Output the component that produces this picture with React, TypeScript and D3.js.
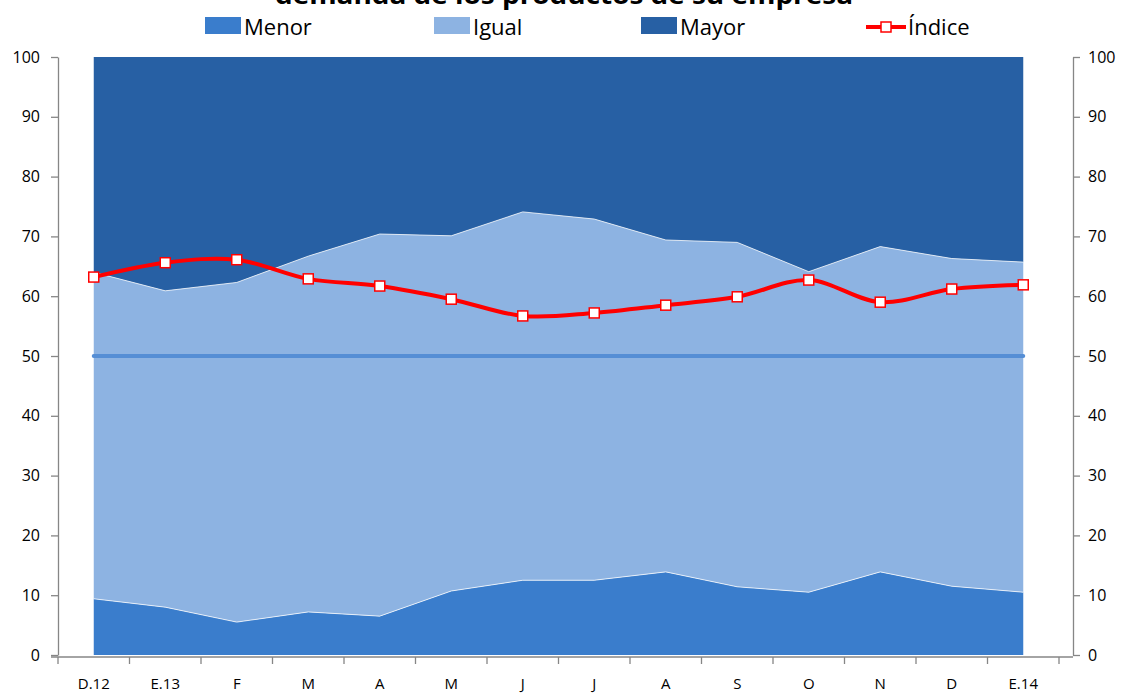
import React, { useEffect, useRef } from 'react';
import * as d3 from 'd3';

// valores (porcentajes)
const categories = ['D.12', 'E.13', 'F', 'M', 'A', 'M', 'J', 'J', 'A', 'S', 'O', 'N', 'D', 'E.14'];
const menor = [9.4, 8.0, 5.5, 7.2, 6.5, 10.7, 12.5, 12.5, 13.9, 11.4, 10.5, 13.9, 11.5, 10.5];
const igual = [54.6, 52.9, 56.8, 59.5, 63.9, 59.4, 61.6, 60.4, 55.5, 57.6, 53.6, 54.4, 54.8, 55.2];
const mayor = [36.0, 39.1, 37.7, 33.3, 29.6, 29.9, 25.9, 27.1, 30.6, 31.0, 35.9, 31.7, 33.7, 34.3];
const indice = [63.2, 65.6, 66.1, 62.9, 61.7, 59.5, 56.7, 57.2, 58.5, 59.9, 62.7, 59.0, 61.2, 61.9];
const referencia = categories.map(() => 50);
const yTicks = [0, 10, 20, 30, 40, 50, 60, 70, 80, 90, 100];

const title = 'demanda de los productos de su empresa';
const seriesNames = ['Menor', 'Igual', 'Mayor'];
const seriesColors = ['#3a7dcc', '#8db3e2', '#2760a4'];

const FONT = "'Open Sans', 'Liberation Sans', sans-serif";

const App: React.FC = () => {
  const svgRef = useRef<SVGSVGElement | null>(null);

  useEffect(() => {
    if (!svgRef.current) return;
    const width = 1121;
    const height = 695;
    const margin = { left: 58, right: 1073, top: 57, bottom: 655, bandEnd: 1059 };

    const svg = d3.select(svgRef.current)
      .attr('width', width)
      .attr('height', height)
      .style('font-family', FONT);
    svg.selectAll('*').remove();

    const idx = categories.map((_, i) => i);
    const x = d3.scaleBand<number>()
      .domain(idx)
      .range([margin.left, margin.bandEnd])
      .padding(0);
    const cx = (i: number) => (x(i) || 0) + x.bandwidth() / 2;

    const y = d3.scaleLinear().domain([0, 100]).range([margin.bottom, margin.top]);

    // áreas apiladas
    const rows = idx.map(i => ({ i, Menor: menor[i], Igual: igual[i], Mayor: mayor[i] }));
    const stacked = d3.stack<any>().keys(seriesNames)(rows);

    const area = d3.area<any>()
      .x(d => cx(d.data.i))
      .y0(d => y(d[0]))
      .y1(d => y(d[1]));
    const topLine = d3.line<any>()
      .x(d => cx(d.data.i))
      .y(d => y(d[1]));

    svg.append('g')
      .selectAll('path')
      .data(stacked)
      .join('path')
      .attr('d', area)
      .attr('fill', (_, k) => seriesColors[k]);

    svg.append('g')
      .selectAll('path')
      .data(stacked.slice(0, 2))
      .join('path')
      .attr('d', topLine)
      .attr('fill', 'none')
      .attr('stroke', '#ffffff')
      .attr('stroke-opacity', 0.75)
      .attr('stroke-width', 1);

    // línea de referencia 50
    svg.append('path')
      .datum(idx)
      .attr('d', d3.line<number>().x(i => cx(i)).y(i => y(referencia[i])))
      .attr('fill', 'none')
      .attr('stroke', '#558ed5')
      .attr('stroke-width', 4)
      .attr('stroke-linecap', 'round');

    // índice
    svg.append('path')
      .datum(idx)
      .attr('d', d3.line<number>().x(i => cx(i)).y(i => y(indice[i])).curve(d3.curveCardinal.tension(0)))
      .attr('fill', 'none')
      .attr('stroke', '#ff0000')
      .attr('stroke-width', 4)
      .attr('stroke-linejoin', 'round');

    svg.append('g')
      .selectAll('rect')
      .data(idx)
      .join('rect')
      .attr('x', i => cx(i) - 5)
      .attr('y', i => y(indice[i]) - 5)
      .attr('width', 10)
      .attr('height', 10)
      .attr('fill', '#ffffff')
      .attr('stroke', '#ff0000')
      .attr('stroke-width', 1.5);

    // ejes
    const axisColor = '#868686';
    const left = svg.append('g')
      .attr('transform', `translate(${margin.left},0)`)
      .call(d3.axisLeft(y).tickValues(yTicks).tickSize(7).tickSizeOuter(0).tickPadding(11));
    const right = svg.append('g')
      .attr('transform', `translate(${margin.right},0)`)
      .call(d3.axisRight(y).tickValues(yTicks).tickSize(7).tickSizeOuter(0).tickPadding(8));
    [left, right].forEach(g => {
      g.select('.domain').attr('stroke', axisColor).attr('stroke-width', 1.3);
      g.selectAll('.tick line').attr('stroke', axisColor).attr('stroke-width', 1.3);
      g.selectAll('.tick text')
        .attr('fill', '#000')
        .style('font-size', '16px')
        .style('font-family', FONT);
    });

    const bottom = svg.append('g');
    bottom.append('line')
      .attr('x1', margin.left - 7)
      .attr('x2', margin.right)
      .attr('y1', y(0) + 2)
      .attr('y2', y(0) + 2)
      .attr('stroke', axisColor)
      .attr('stroke-width', 1.3);
    bottom.selectAll('line.tk')
      .data(d3.range(categories.length + 1))
      .join('line')
      .attr('class', 'tk')
      .attr('x1', i => margin.left + i * x.step())
      .attr('x2', i => margin.left + i * x.step())
      .attr('y1', y(0) + 2)
      .attr('y2', y(0) + 9)
      .attr('stroke', axisColor)
      .attr('stroke-width', 1.3);
    bottom.selectAll('text')
      .data(idx)
      .join('text')
      .attr('x', i => cx(i))
      .attr('y', 689)
      .attr('text-anchor', 'middle')
      .style('font-size', '15px')
      .text(i => categories[i]);

    // título (cortado arriba, como en el original)
    svg.append('text')
      .attr('x', 564)
      .attr('y', 4)
      .attr('text-anchor', 'middle')
      .attr('textLength', 578)
      .attr('lengthAdjust', 'spacingAndGlyphs')
      .style('font-size', '25px')
      .style('font-weight', 'bold')
      .text(title);

    // leyenda
    const legend = svg.append('g');
    const legendX = [205, 434, 641];
    seriesNames.forEach((name, k) => {
      legend.append('rect')
        .attr('x', legendX[k])
        .attr('y', 17)
        .attr('width', 36)
        .attr('height', 17)
        .attr('fill', seriesColors[k]);
      legend.append('text')
        .attr('x', legendX[k] + 39)
        .attr('y', 35)
        .style('font-size', '22px')
        .text(name);
    });
    legend.append('line')
      .attr('x1', 866).attr('x2', 906)
      .attr('y1', 27).attr('y2', 27)
      .attr('stroke', '#ff0000')
      .attr('stroke-width', 4);
    legend.append('rect')
      .attr('x', 881).attr('y', 22)
      .attr('width', 10).attr('height', 10)
      .attr('fill', '#fff')
      .attr('stroke', '#ff0000')
      .attr('stroke-width', 1.5);
    legend.append('text')
      .attr('x', 908)
      .attr('y', 35)
      .style('font-size', '22px')
      .text('Índice');
  }, []);

  return (
    <div style={{ position: 'absolute', left: 0, top: 0, background: '#fff' }}>
      <svg ref={svgRef} style={{ display: 'block' }}></svg>
    </div>
  );
};

export default App;
